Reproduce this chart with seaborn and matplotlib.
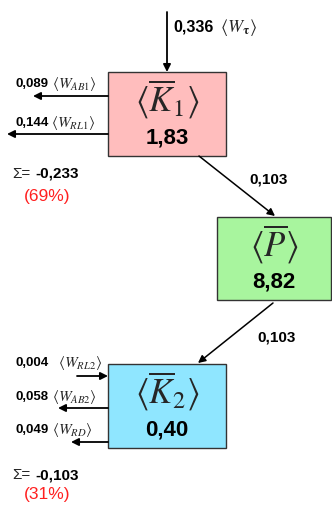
import matplotlib
matplotlib.use("Agg")
import matplotlib.pyplot as plt
import seaborn as sns
from matplotlib.patches import Rectangle

sns.set_theme(style="white")
plt.rcParams["font.family"] = ["Liberation Sans", "DejaVu Sans"]
plt.rcParams["mathtext.fontset"] = "stix"

# data
box_symbols = [r"$\langle\overline{K}_1\rangle$", r"$\langle\overline{P}\rangle$", r"$\langle\overline{K}_2\rangle$"]
box_values = ["1,83", "8,82", "0,40"]
box_colors = ["#FFBDBD", "#A8F59E", "#8FE6FF"]

inflow_value = "0,336"
inflow_symbol = r"$\langle W_{\mathbf{\tau}}\rangle$"
transfer_values = ["0,103", "0,103"]

k1_out_values = ["0,089", "0,144"]
k1_out_symbols = [r"$\langle W_{AB1}\rangle$", r"$\langle W_{RL1}\rangle$"]
k2_flow_values = ["0,004", "0,058", "0,049"]
k2_flow_symbols = [r"$\langle W_{RL2}\rangle$", r"$\langle W_{AB2}\rangle$", r"$\langle W_{RD}\rangle$"]
k2_flow_in = [True, False, False]
sums = ["-0,233", "-0,103"]
shares = ["(69%)", "(31%)"]

# layout (pixel coordinates, y down)
boxes = [(108, 72, 118, 84), (217, 217, 114, 83), (108, 364, 118, 84)]
k1_arrow_y = [96, 134]
k1_arrow_end = [33, 7]
k1_label_y = [84, 123]
k1_symbol_x = [52, 51]
k2_arrow_y = [376, 408, 442]
k2_arrow_end = [77, 58, 71]
k2_label_y = [363, 397, 430]
k2_symbol_x = [58, 52, 52]
sum_y = [174, 475]
share_y = [197, 494]

fig = plt.figure(figsize=(3.32, 5.08), dpi=100)
ax = fig.add_axes([0, 0, 1, 1])
ax.set_xlim(0, 332)
ax.set_ylim(508, 0)
ax.axis("off")

arrow = dict(arrowstyle="-|>", color="black", lw=1.3, mutation_scale=11, shrinkA=0, shrinkB=0)
bold = dict(fontweight="bold", color="black", va="center")

for (x, y, w, h), sym, val, col in zip(boxes, box_symbols, box_values, box_colors):
    ax.add_patch(Rectangle((x, y), w, h, facecolor=col, edgecolor="#333333", lw=1))
    ax.text(x + w / 2, y + h * 0.33, sym, fontsize=25, ha="center", va="center")
    ax.text(x + w / 2, y + h * 0.78, val, fontsize=16, ha="center", **bold)

# inflow into K1
ax.annotate("", xy=(167, 72), xytext=(167, 12), arrowprops=arrow)
ax.text(173, 27, inflow_value, fontsize=11.5, ha="left", **bold)
ax.text(220, 27, inflow_symbol, fontsize=13, ha="left", va="center")

# outflows of K1
for y, xe, ly, sx, val, sym in zip(k1_arrow_y, k1_arrow_end, k1_label_y, k1_symbol_x,
                                   k1_out_values, k1_out_symbols):
    ax.annotate("", xy=(xe, y), xytext=(108, y), arrowprops=arrow)
    ax.text(16, ly, val, fontsize=9.5, ha="left", **bold)
    ax.text(sx, ly, sym, fontsize=11, ha="left", va="center")

# K1 -> P -> K2
ax.annotate("", xy=(275, 216), xytext=(199, 156), arrowprops=dict(arrow, lw=1.1))
ax.text(249, 179, transfer_values[0], fontsize=11, ha="left", **bold)
ax.annotate("", xy=(198, 363), xytext=(273, 303), arrowprops=dict(arrow, lw=1.1))
ax.text(257, 338, transfer_values[1], fontsize=11, ha="left", **bold)

# flows of K2
for y, xe, ly, sx, val, sym, inward in zip(k2_arrow_y, k2_arrow_end, k2_label_y, k2_symbol_x,
                                           k2_flow_values, k2_flow_symbols, k2_flow_in):
    if inward:
        ax.annotate("", xy=(108, y), xytext=(xe, y), arrowprops=arrow)
    else:
        ax.annotate("", xy=(xe, y), xytext=(108, y), arrowprops=arrow)
    ax.text(16, ly, val, fontsize=9.5, ha="left", **bold)
    ax.text(sx, ly, sym, fontsize=11, ha="left", va="center")

# sums and shares
for s, p, sy, py in zip(sums, shares, sum_y, share_y):
    ax.text(12, sy, "\u03a3=", fontsize=11, ha="left", va="center", color="#222222")
    ax.text(35, sy, s, fontsize=11, ha="left", **bold)
    ax.text(24, py, p, fontsize=12.5, ha="left", va="center", color="#FF2020")

fig.savefig("out.png", dpi=100)
